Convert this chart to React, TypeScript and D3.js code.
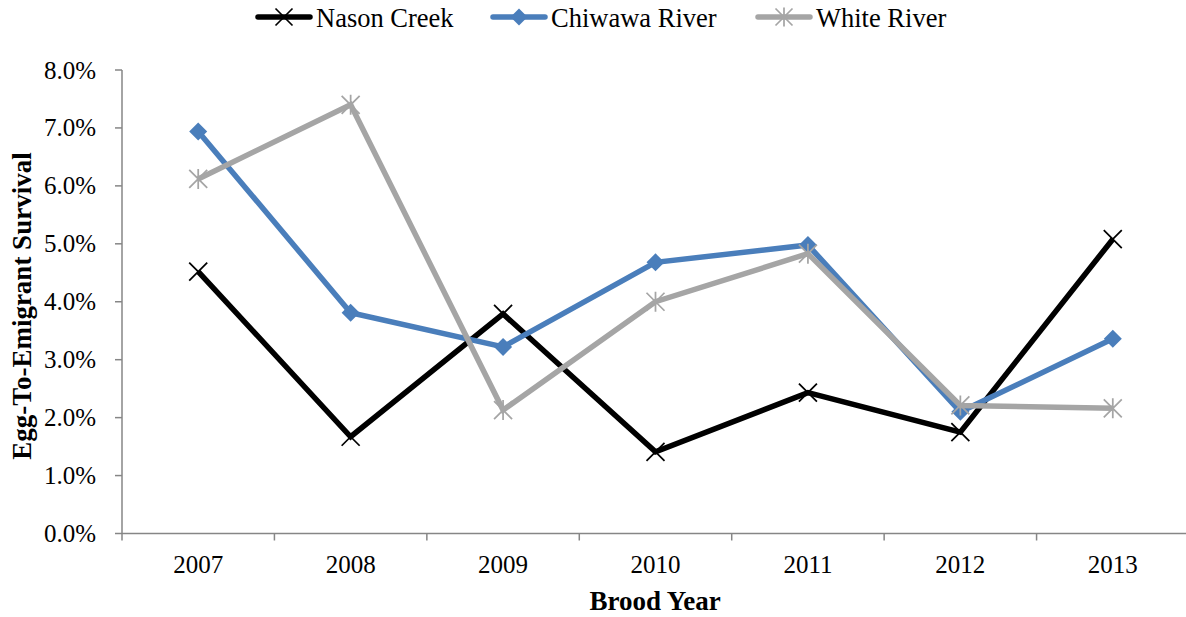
import React from 'react';
import * as d3 from 'd3';

const years = ['2007', '2008', '2009', '2010', '2011', '2012', '2013'];
const nasonCreek = [4.52, 1.67, 3.79, 1.41, 2.43, 1.75, 5.08];
const chiwawaRiver = [6.94, 3.81, 3.22, 4.68, 4.98, 2.10, 3.36];
const whiteRiver = [6.12, 7.40, 2.13, 4.00, 4.83, 2.21, 2.16];
const yTicks = [0, 1, 2, 3, 4, 5, 6, 7, 8];

type Series = { name: string; values: number[]; color: string; marker: 'x' | 'diamond' | 'star' };

const series: Series[] = [
  { name: 'Nason Creek', values: nasonCreek, color: '#000000', marker: 'x' },
  { name: 'Chiwawa River', values: chiwawaRiver, color: '#4a7ebb', marker: 'diamond' },
  { name: 'White River', values: whiteRiver, color: '#a5a5a5', marker: 'star' },
];

const W = 1186;
const H = 617;
const left = 122;
const right = 1189;
const top = 70;
const bottom = 533.5;
const axisColor = '#868686';
const font = '"Liberation Serif", "Times New Roman", serif';

const Marker = ({ kind, x, y, color, s = 9 }: { kind: string; x: number; y: number; color: string; s?: number }) => {
  if (kind === 'diamond') {
    return <path d={`M${x},${y - s}L${x + s},${y}L${x},${y + s}L${x - s},${y}Z`} fill={color} />;
  }
  if (kind === 'x') {
    return (
      <path d={`M${x - s},${y - s}L${x + s},${y + s}M${x - s},${y + s}L${x + s},${y - s}`} stroke={color} strokeWidth={1.75} />
    );
  }
  return (
    <path
      d={`M${x - s},${y - s}L${x + s},${y + s}M${x - s},${y + s}L${x + s},${y - s}M${x},${y - s - 1}L${x},${y + s + 1}`}
      stroke={color}
      strokeWidth={1.75}
    />
  );
};

export default function App() {
  const x = d3.scaleBand<string>().domain(years).range([left, right]);
  const y = d3.scaleLinear().domain([0, 8]).range([bottom, top]);
  const cx = (i: number) => x(years[i])! + x.bandwidth() / 2;
  const line = d3
    .line<number>()
    .x((_, i) => cx(i))
    .y((d) => y(d));

  const legendItems = [
    { s: series[0], x0: 256 },
    { s: series[1], x0: 491 },
    { s: series[2], x0: 756 },
  ];

  return (
    <svg width={W} height={H} style={{ position: 'absolute', left: 0, top: 0 }}>
      {/* axes */}
      <line x1={left} x2={left} y1={top} y2={bottom} stroke={axisColor} strokeWidth={1.5} />
      <line x1={left} x2={right} y1={bottom} y2={bottom} stroke={axisColor} strokeWidth={1.5} />
      {yTicks.map((t) => (
        <g key={t}>
          <line x1={left - 7} x2={left} y1={y(t)} y2={y(t)} stroke={axisColor} strokeWidth={1.5} />
          <text x={left - 26} y={y(t)} dy="0.34em" textAnchor="end" fontSize={25} fontFamily={font} fill="#000">
            {t.toFixed(1)}%
          </text>
        </g>
      ))}
      {years.map((yr) => (
        <g key={yr}>
          <line x1={x(yr)!} x2={x(yr)!} y1={bottom} y2={bottom + 7} stroke={axisColor} strokeWidth={1.5} />
          <text x={x(yr)! + x.bandwidth() / 2} y={573} textAnchor="middle" fontSize={25} fontFamily={font} fill="#000">
            {yr}
          </text>
        </g>
      ))}
      <text x={655} y={610} textAnchor="middle" fontSize={27} fontWeight="bold" fontFamily={font}>
        Brood Year
      </text>
      <text
        transform={`translate(31,306) rotate(-90)`}
        textAnchor="middle"
        fontSize={27}
        fontWeight="bold"
        fontFamily={font}
      >
        Egg-To-Emigrant Survival
      </text>

      {/* series */}
      {series.map((s) => (
        <g key={s.name}>
          <path d={line(s.values)!} fill="none" stroke={s.color} strokeWidth={5.5} strokeLinejoin="miter" />
          {s.values.map((v, i) => (
            <Marker key={i} kind={s.marker} x={cx(i)} y={y(v)} color={s.color} />
          ))}
        </g>
      ))}

      {/* legend */}
      {legendItems.map(({ s, x0 }) => (
        <g key={s.name}>
          <line x1={x0 + 2} x2={x0 + 54} y1={17} y2={17} stroke={s.color} strokeWidth={5.5} strokeLinecap="round" />
          <Marker kind={s.marker} x={x0 + 28} y={17} color={s.color} s={8.5} />
          <text x={x0 + 60} y={27} fontSize={26.5} fontFamily={font} fill="#000">
            {s.name}
          </text>
        </g>
      ))}
    </svg>
  );
}
